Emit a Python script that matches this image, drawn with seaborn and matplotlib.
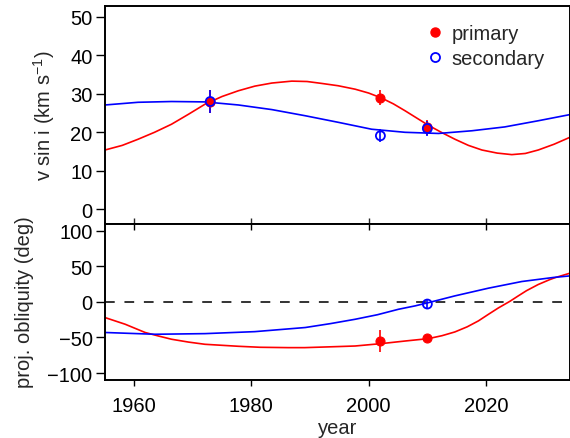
import numpy as np
import pandas as pd
import matplotlib
matplotlib.use("Agg")
import matplotlib.pyplot as plt
from matplotlib.lines import Line2D
import seaborn as sns

# ---- data ----
# model curves
top_p_years = [1955.06, 1958.0, 1960.7, 1963.5, 1966.4, 1969.3, 1972.1, 1975.0, 1977.8, 1980.6,
               1983.5, 1986.9, 1989.5, 1992.0, 1994.8, 1997.7, 2000.0, 2002.2, 2004.2, 2006.2,
               2008.2, 2010.2, 2012.5, 2014.7, 2017.0, 2019.3, 2021.9, 2024.4, 2026.7, 2028.9,
               2031.6, 2034.3]
vsini_primary_curve = [15.4, 16.6, 18.2, 20.0, 22.1, 24.7, 27.3, 29.3, 30.8, 32.0,
                       32.8, 33.3, 33.2, 32.7, 32.1, 31.2, 30.2, 28.9, 27.4, 25.6,
                       23.7, 21.8, 19.9, 18.2, 16.6, 15.4, 14.6, 14.2, 14.5, 15.4,
                       16.9, 18.7]

top_s_years = [1955.06, 1960.7, 1966.4, 1972.1, 1977.8, 1983.5, 1989.2, 1994.8, 2000.5,
               2006.2, 2011.9, 2017.6, 2023.2, 2028.9, 2034.3]
vsini_secondary_curve = [27.1, 27.8, 28.0, 27.9, 27.1, 25.9, 24.3, 22.6, 20.8,
                         20.0, 19.7, 20.4, 21.4, 23.0, 24.6]

bot_p_years = [1955.06, 1958.5, 1961.9, 1964.2, 1966.4, 1969.3, 1972.1, 1977.8, 1981.5, 1986.3,
               1989.1, 1994.8, 1997.7, 2002.2, 2006.2, 2010.2, 2012.5, 2014.7, 2016.8, 2018.7,
               2020.4, 2022.1, 2024.1, 2025.5, 2026.9, 2028.9, 2030.9, 2031.8, 2034.3]
obliq_primary_curve = [-22.0, -31.4, -43.0, -48.0, -52.5, -56.5, -59.6, -62.4, -63.8, -64.3,
                       -64.3, -62.8, -62.0, -58.6, -55.0, -51.6, -47.5, -42.2, -35.0, -26.7,
                       -17.5, -8.5, 1.0, 8.5, 15.8, 24.5, 31.5, 34.2, 40.4]

bot_s_years = [1955.06, 1963.6, 1972.1, 1980.6, 1989.2, 1993.5, 1997.7, 2001.5, 2005.1,
               2007.9, 2010.2, 2014.7, 2020.4, 2026.1, 2031.5, 2034.3]
obliq_secondary_curve = [-43.0, -45.5, -44.6, -41.8, -36.0, -30.5, -24.4, -18.0, -10.3,
                         -5.6, -1.0, 8.5, 19.3, 28.7, 34.4, 36.6]

# measurements
vsini_p_years = [1973, 2002, 2010]
vsini_p = [28.0, 29.0, 21.3]
vsini_p_err = [3.0, 2.0, 2.0]
vsini_s_years = [1973, 2002, 2010]
vsini_s = [28.0, 19.1, 21.0]
vsini_s_err = [3.0, 1.7, 2.0]

obl_p_years = [2002, 2010]
obl_p = [-55, -51]
obl_p_err = [15, 3]
obl_s_years = [2010]
obl_s = [-3]
obl_s_err = [5]

xticks = [1960, 1980, 2000, 2020]

# ---- style ----
sns.set_style("ticks")
plt.rcParams['font.family'] = ['Liberation Sans', 'DejaVu Sans']
plt.rcParams['mathtext.fontset'] = 'custom'
plt.rcParams['mathtext.rm'] = 'Liberation Sans'
plt.rcParams['mathtext.it'] = 'Liberation Sans'
FS = 14.5
RED = '#ff0000'
BLUE = '#0000ff'
MS = 42

W, H = 570, 439
fig = plt.figure(figsize=(W / 100, H / 100), dpi=100)
left = 105 / W
width = 464.5 / W
ax1 = fig.add_axes([left, 1 - 224.5 / H, width, (224.5 - 6.7) / H])
ax2 = fig.add_axes([left, 1 - 380.7 / H, width, (380.7 - 224.5) / H])

def df(x, y):
    return pd.DataFrame({'x': x, 'y': y})

# top panel
sns.lineplot(data=df(top_p_years, vsini_primary_curve), x='x', y='y', ax=ax1,
             color=RED, lw=1.2, sort=True)
sns.lineplot(data=df(top_s_years, vsini_secondary_curve), x='x', y='y', ax=ax1,
             color=BLUE, lw=1.2, sort=True)
ax1.errorbar(vsini_p_years, vsini_p, yerr=vsini_p_err, fmt='none', ecolor=RED, elinewidth=1.2)
sns.scatterplot(data=df(vsini_p_years, vsini_p), x='x', y='y', ax=ax1, color=RED,
                s=MS, edgecolor=RED, linewidth=0.8, zorder=3)
ax1.errorbar(vsini_s_years, vsini_s, yerr=vsini_s_err, fmt='none', ecolor=BLUE, elinewidth=1.2)
sns.scatterplot(data=df(vsini_s_years, vsini_s), x='x', y='y', ax=ax1, facecolor='none',
                s=MS, edgecolor=BLUE, linewidth=1.3, zorder=4)

# bottom panel
ax2.axhline(0, color='#333333', lw=1.4, ls=(0, (5, 5)), zorder=1)
sns.lineplot(data=df(bot_p_years, obliq_primary_curve), x='x', y='y', ax=ax2,
             color=RED, lw=1.2, sort=True)
sns.lineplot(data=df(bot_s_years, obliq_secondary_curve), x='x', y='y', ax=ax2,
             color=BLUE, lw=1.2, sort=True)
ax2.errorbar(obl_p_years, obl_p, yerr=obl_p_err, fmt='none', ecolor=RED, elinewidth=1.2)
sns.scatterplot(data=df(obl_p_years, obl_p), x='x', y='y', ax=ax2, color=RED,
                s=MS, edgecolor=RED, linewidth=0.8, zorder=3)
ax2.errorbar(obl_s_years, obl_s, yerr=obl_s_err, fmt='none', ecolor=BLUE, elinewidth=1.2)
sns.scatterplot(data=df(obl_s_years, obl_s), x='x', y='y', ax=ax2, facecolor='none',
                s=MS, edgecolor=BLUE, linewidth=1.3, zorder=4)

# axes formatting
for ax in (ax1, ax2):
    ax.set_xlim(1955.06, 2034.23)
    ax.set_xticks(xticks)
    for s in ax.spines.values():
        s.set_visible(True)
        s.set_linewidth(1.4)
        s.set_color('black')
    ax.tick_params(axis='y', direction='out', length=6.5, width=1.0, labelsize=FS, pad=2.5,
                   colors='black')

ax1.set_ylim(-3.7, 52.9)
ax1.set_yticks([0, 10, 20, 30, 40, 50])
ax1.tick_params(axis='x', direction='in', length=4.5, width=1.0, labelbottom=False)
ax2.set_ylim(-109.4, 110.3)
ax2.set_yticks([-100, -50, 0, 50, 100])
ax2.set_yticklabels(['\u2212100', '\u221250', '0', '50', '100'])
ax2.tick_params(axis='x', direction='out', length=4.5, width=1.0, labelsize=FS, pad=7,
                top=True, labeltop=False, colors='black')
# top ticks of lower panel point inward
for t in ax2.xaxis.get_major_ticks():
    t.tick2line.set_marker(matplotlib.lines.TICKDOWN)
    t.tick2line.set_markersize(4.5)

ax1.set_xlabel('')
ax1.set_ylabel(r'v sin i (km s$^{-1}$)', fontsize=FS)
ax1.yaxis.set_label_coords(-0.103, 0.5)
ax2.set_ylabel('proj. obliquity (deg)', fontsize=FS)
ax2.yaxis.set_label_coords(-0.153, 0.5)
ax2.set_xlabel('year', fontsize=FS)
ax2.xaxis.set_label_coords(0.5, -0.243)

handles = [
    Line2D([], [], ls='none', marker='o', color=RED, markersize=6.5),
    Line2D([], [], ls='none', marker='o', markerfacecolor='none', markeredgecolor=BLUE,
           markeredgewidth=1.3, markersize=6.5),
]
ax1.legend(handles, ['primary', 'secondary'], loc='upper right', frameon=False,
           fontsize=FS, handlelength=0.8, handletextpad=0.43, labelspacing=0.3,
           bbox_to_anchor=(0.947, 0.915), borderaxespad=0, borderpad=0)

fig.savefig('out.png', dpi=100)
